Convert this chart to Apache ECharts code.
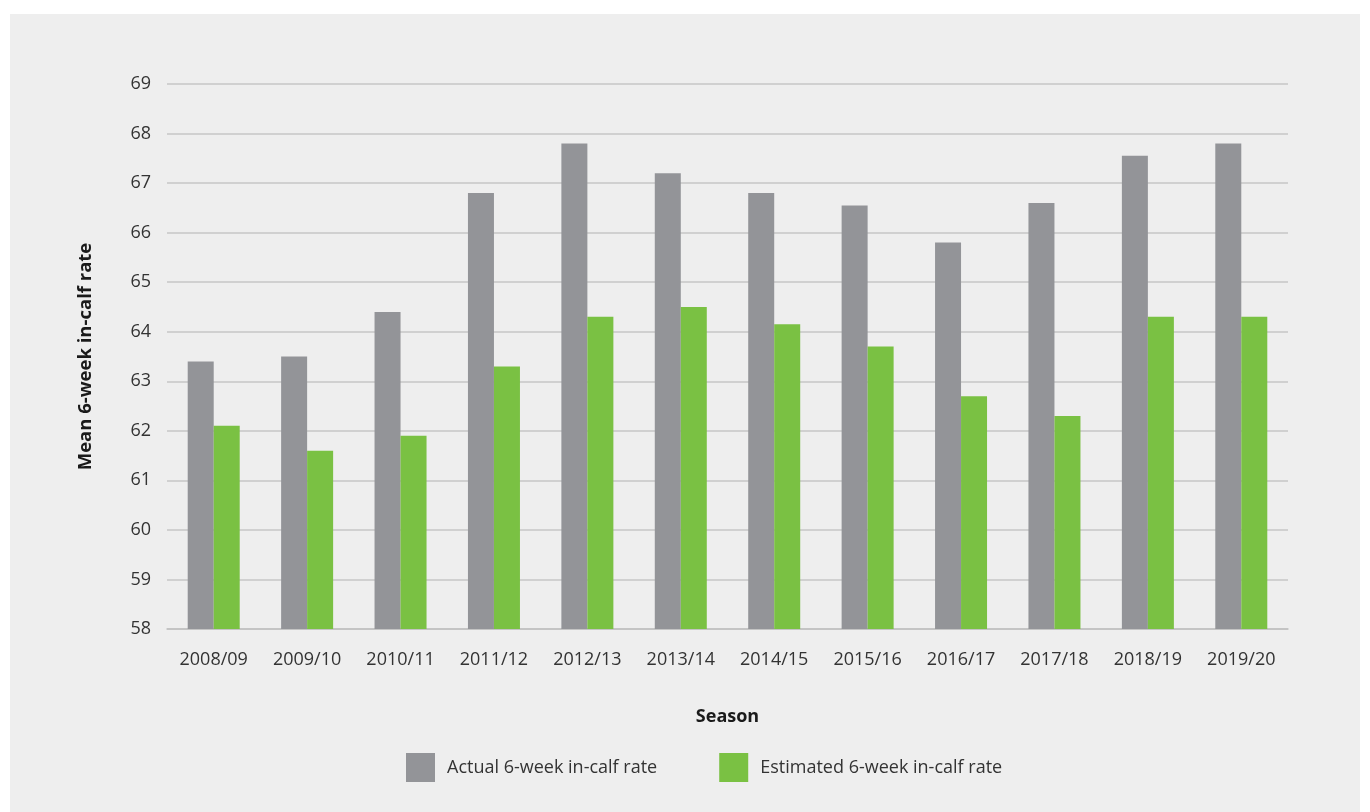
<!DOCTYPE html>
<html>
<head>
<meta charset="utf-8">
<script src="https://cdn.jsdelivr.net/npm/echarts@6/dist/echarts.min.js"></script>
<style>
  html, body { margin: 0; padding: 0; background: #ffffff; }
  #chart { position: absolute; left: 10px; top: 14px; width: 1350px; height: 798px; background: #eeeeee; }
</style>
</head>
<body>
<div id="chart"></div>
<script>
// Seasons on the x axis
const seasons = ['2008/09', '2009/10', '2010/11', '2011/12', '2012/13', '2013/14',
                 '2014/15', '2015/16', '2016/17', '2017/18', '2018/19', '2019/20'];
// Mean 6-week in-calf rate, actual vs estimated
const actualRate = [63.4, 63.5, 64.4, 66.8, 67.8, 67.2, 66.8, 66.55, 65.8, 66.6, 67.55, 67.8];
const estimatedRate = [62.1, 61.6, 61.9, 63.3, 64.3, 64.5, 64.15, 63.7, 62.7, 62.3, 64.3, 64.3];

const seriesNames = ['Actual 6-week in-calf rate', 'Estimated 6-week in-calf rate'];
const fontFamily = '"Open Sans", "Noto Sans", sans-serif';

const chart = echarts.init(document.getElementById('chart'), null, { renderer: 'canvas' });
chart.setOption({
  backgroundColor: '#eeeeee',
  animation: false,
  textStyle: { fontFamily: fontFamily },
  grid: { left: 157, right: 72, top: 70, bottom: 183 },
  legend: {
    data: seriesNames,
    bottom: 25,
    left: 391,
    itemWidth: 29,
    itemHeight: 29,
    itemGap: 62,
    icon: 'rect',
    textStyle: { fontSize: 18, color: '#333333', fontFamily: fontFamily, padding: [0, 0, 0, 7] }
  },
  xAxis: {
    type: 'category',
    data: seasons,
    name: 'Season',
    nameLocation: 'middle',
    nameGap: 79,
    nameTextStyle: { fontSize: 18, fontWeight: 'bold', color: '#1a1a1a', fontFamily: fontFamily },
    axisLine: { lineStyle: { color: '#c0c0c0', width: 1.5 } },
    axisTick: { show: false },
    axisLabel: { fontSize: 18, color: '#333333', margin: 22, fontFamily: fontFamily }
  },
  yAxis: {
    type: 'value',
    min: 58,
    max: 69,
    interval: 1,
    name: 'Mean 6-week in-calf rate',
    nameLocation: 'middle',
    nameGap: 72,
    nameRotate: 90,
    nameTextStyle: { fontSize: 18.5, fontWeight: 'bold', color: '#1a1a1a', fontFamily: fontFamily },
    axisLine: { show: false },
    axisTick: { show: false },
    axisLabel: { fontSize: 18, color: '#333333', margin: 16, fontFamily: fontFamily },
    splitLine: { lineStyle: { color: '#c6c6c6', width: 1.5 } }
  },
  series: [
    {
      name: seriesNames[0],
      type: 'bar',
      data: actualRate,
      barWidth: 26,
      barGap: '0%',
      itemStyle: { color: '#939498' }
    },
    {
      name: seriesNames[1],
      type: 'bar',
      data: estimatedRate,
      barWidth: 26,
      barGap: '0%',
      itemStyle: { color: '#7ac143' }
    }
  ]
});
</script>
</body>
</html>
